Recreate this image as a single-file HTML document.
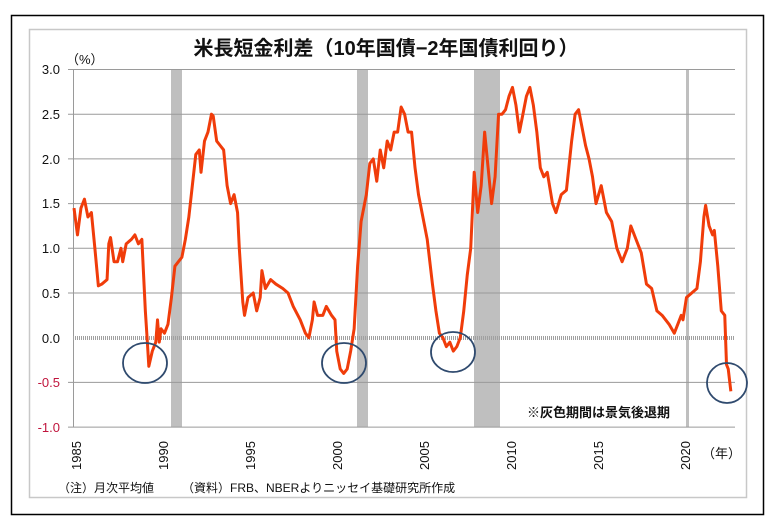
<!DOCTYPE html>
<html><head><meta charset="utf-8"><style>
body{margin:0;background:#fff;}
svg{display:block;font-family:"Liberation Sans","Noto Sans CJK JP",sans-serif;}
</style></head><body>
<svg width="773" height="524" viewBox="0 0 773 524" xmlns="http://www.w3.org/2000/svg">
<rect x="0" y="0" width="773" height="524" fill="#fff"/>
<rect x="11.5" y="15.5" width="752" height="499" fill="none" stroke="#000" stroke-width="1.5"/>
<rect x="29.5" y="29.5" width="717" height="468" fill="none" stroke="#c8c8c8" stroke-width="1.5"/>
<g fill="#bfbfbf">
<rect x="171" y="69" width="11" height="358"/>
<rect x="357" y="69" width="11" height="358"/>
<rect x="474" y="69" width="26" height="358"/>
<rect x="686" y="69" width="3" height="358"/>
</g>
<g stroke="#9a9a9a" stroke-width="1">
<line x1="68" x2="735" y1="69.5" y2="69.5"/>
<line x1="68" x2="735" y1="114.2" y2="114.2"/>
<line x1="68" x2="735" y1="158.9" y2="158.9"/>
<line x1="68" x2="735" y1="203.6" y2="203.6"/>
<line x1="68" x2="735" y1="248.3" y2="248.3"/>
<line x1="68" x2="735" y1="293" y2="293"/>
<line x1="68" x2="735" y1="382.4" y2="382.4"/>
<line x1="68" x2="735" y1="427.1" y2="427.1"/>
<line x1="73.5" x2="73.5" y1="69" y2="427"/>
</g>
<line x1="73" x2="735" y1="338" y2="338" stroke="#a0a0a0" stroke-width="4" stroke-dasharray="1 1"/>
<g transform="translate(-34465,337.7) scale(17.4,-89.4)">
<polyline fill="none" stroke="#f03c0a" stroke-width="3" stroke-linejoin="round" vector-effect="non-scaling-stroke" points="
1985.0,1.45 1985.2,1.15 1985.4,1.45 1985.6,1.55 1985.8,1.35 1986.0,1.4 1986.2,1.0 1986.4,0.58 1986.6,0.6 1986.9,0.65 1987.0,1.05 1987.1,1.12 1987.3,0.85 1987.5,0.85 1987.7,1.0 1987.8,0.85 1988.0,1.05 1988.3,1.1 1988.5,1.15 1988.7,1.05 1988.9,1.1 1989.0,0.7 1989.1,0.3 1989.2,0.0 1989.3,-0.32 1989.5,-0.15 1989.7,-0.05 1989.8,0.2 1989.9,-0.05 1990.0,0.1 1990.2,0.05 1990.4,0.15 1990.6,0.45 1990.8,0.8 1991.0,0.85 1991.2,0.9 1991.4,1.1 1991.6,1.35 1991.8,1.7 1992.0,2.05 1992.2,2.1 1992.3,1.85 1992.5,2.2 1992.7,2.3 1992.9,2.5 1993.0,2.48 1993.2,2.2 1993.4,2.15 1993.6,2.1 1993.8,1.7 1994.0,1.5 1994.2,1.6 1994.4,1.4 1994.5,1.0 1994.7,0.4 1994.8,0.25 1995.0,0.45 1995.3,0.5 1995.5,0.3 1995.7,0.45 1995.8,0.75 1996.0,0.55 1996.3,0.65 1996.6,0.6 1997.0,0.55 1997.3,0.5 1997.6,0.35 1998.0,0.2 1998.3,0.05 1998.5,0.0 1998.7,0.2 1998.8,0.4 1999.0,0.25 1999.3,0.25 1999.5,0.35 1999.8,0.25 2000.0,0.2 2000.1,-0.15 2000.3,-0.35 2000.5,-0.4 2000.7,-0.35 2000.9,-0.15 2001.1,0.1 2001.3,0.8 2001.5,1.3 2001.8,1.6 2002.0,1.95 2002.2,2.0 2002.4,1.75 2002.6,2.1 2002.8,1.9 2003.0,2.2 2003.2,2.1 2003.4,2.3 2003.6,2.3 2003.8,2.58 2004.0,2.5 2004.2,2.3 2004.4,2.3 2004.6,1.9 2004.8,1.6 2005.0,1.4 2005.3,1.1 2005.6,0.6 2005.8,0.3 2006.0,0.05 2006.2,0.0 2006.4,-0.1 2006.6,-0.05 2006.8,-0.15 2007.0,-0.1 2007.2,0.0 2007.4,0.3 2007.6,0.7 2007.8,1.0 2008.0,1.85 2008.2,1.4 2008.4,1.7 2008.6,2.3 2008.8,1.9 2009.0,1.5 2009.2,1.8 2009.4,2.5 2009.6,2.5 2009.8,2.55 2010.0,2.7 2010.2,2.8 2010.4,2.6 2010.6,2.3 2010.8,2.5 2011.0,2.7 2011.2,2.8 2011.4,2.6 2011.6,2.3 2011.8,1.9 2012.0,1.8 2012.2,1.85 2012.5,1.5 2012.7,1.4 2013.0,1.6 2013.3,1.65 2013.6,2.2 2013.8,2.5 2014.0,2.55 2014.2,2.35 2014.4,2.15 2014.6,2.0 2014.8,1.8 2015.0,1.5 2015.3,1.7 2015.6,1.4 2015.9,1.3 2016.2,1.0 2016.5,0.85 2016.8,1.0 2017.0,1.25 2017.3,1.1 2017.6,0.95 2017.9,0.6 2018.2,0.55 2018.5,0.3 2018.8,0.25 2019.0,0.2 2019.2,0.15 2019.5,0.05 2019.7,0.15 2019.9,0.25 2020.0,0.2 2020.2,0.45 2020.5,0.5 2020.8,0.55 2021.0,0.85 2021.2,1.35 2021.3,1.48 2021.5,1.25 2021.7,1.15 2021.8,1.2 2022.0,0.8 2022.2,0.3 2022.4,0.25 2022.5,-0.3 2022.6,-0.35 2022.75,-0.6"/>
</g>
<g fill="none" stroke="#2f4a6e" stroke-width="1.8">
<ellipse cx="145" cy="363" rx="22" ry="20"/>
<ellipse cx="344" cy="363" rx="22" ry="20"/>
<ellipse cx="453" cy="352" rx="22" ry="20"/>
<ellipse cx="727" cy="383" rx="20" ry="20"/>
</g>
<text x="386" y="55" font-size="20" font-weight="bold" text-anchor="middle" fill="#111">米長短金利差（10年国債−2年国債利回り）</text>
<text x="66" y="64" font-size="13" fill="#111">（%）</text>
<g font-size="13" text-anchor="end" fill="#111">
<text x="60" y="74">3.0</text>
<text x="60" y="119">2.5</text>
<text x="60" y="164">2.0</text>
<text x="60" y="208">1.5</text>
<text x="60" y="253">1.0</text>
<text x="60" y="298">0.5</text>
<text x="60" y="343">0.0</text>
<text x="60" y="387" fill="#c0143c">-0.5</text>
<text x="60" y="432" fill="#c0143c">-1.0</text>
</g>
<g font-size="13" fill="#111">
<text transform="translate(81,470) rotate(-90)">1985</text>
<text transform="translate(168,470) rotate(-90)">1990</text>
<text transform="translate(255,470) rotate(-90)">1995</text>
<text transform="translate(342,470) rotate(-90)">2000</text>
<text transform="translate(429,470) rotate(-90)">2005</text>
<text transform="translate(516,470) rotate(-90)">2010</text>
<text transform="translate(603,470) rotate(-90)">2015</text>
<text transform="translate(690,470) rotate(-90)">2020</text>
</g>
<text x="702" y="458" font-size="13" fill="#111">（年）</text>
<text x="527" y="417" font-size="13" font-weight="bold" fill="#111">※灰色期間は景気後退期</text>
<text x="58" y="492" font-size="12" fill="#111">（注）月次平均値</text>
<text x="182" y="492" font-size="12" fill="#111">（資料）FRB、NBERよりニッセイ基礎研究所作成</text>
</svg>
</body></html>
